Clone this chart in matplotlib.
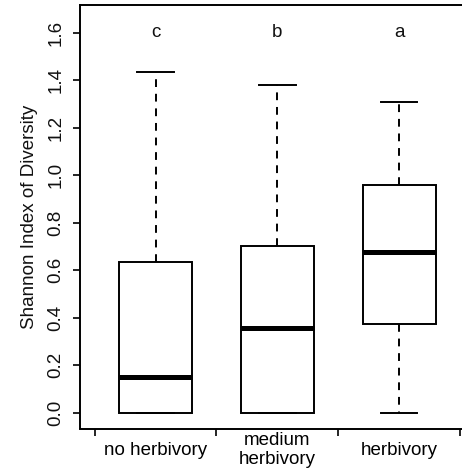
import matplotlib
matplotlib.use("Agg")
import matplotlib.pyplot as plt

plt.rcParams['font.family'] = ['Liberation Sans', 'DejaVu Sans']

# Data
categories = ['no herbivory', 'medium\nherbivory', 'herbivory']
letters = ['c', 'b', 'a']
whis_low = [0.0, 0.0, 0.0]
q1 = [0.0, 0.0, 0.373]
medians = [0.149, 0.358, 0.675]
q3 = [0.636, 0.700, 0.957]
whis_high = [1.434, 1.378, 1.306]

stats = []
for i in range(len(categories)):
    stats.append(dict(whislo=whis_low[i], q1=q1[i], med=medians[i],
                      q3=q3[i], whishi=whis_high[i], fliers=[]))

fig = plt.figure(figsize=(4.62, 4.70), dpi=100)
# right side of the R plot box is cropped off in the reference
ax = fig.add_axes([80 / 462, 41.5 / 470, 394.7 / 462, 423.5 / 470])

positions = [1, 2, 3]
ax.bxp(stats, positions=positions, widths=0.6, capwidths=0.3,
       patch_artist=True, manage_ticks=False,
       boxprops=dict(facecolor='white', edgecolor='black', linewidth=1.4),
       whiskerprops=dict(color='black', linewidth=1.4, linestyle=(0, (4, 3.5))),
       capprops=dict(color='black', linewidth=1.4),
       medianprops=dict(color='black', linewidth=3.6, solid_capstyle='butt'))

for x, lab in zip(positions, letters):
    ax.text(x, 1.6, lab, ha='center', va='center', fontsize=13.5, color='#111111')

ax.set_xlim(0.38, 3.62)
ax.set_ylim(-0.066, 1.716)

ax.set_yticks([0.0, 0.2, 0.4, 0.6, 0.8, 1.0, 1.2, 1.4, 1.6])
ax.set_yticklabels(['%.1f' % v for v in ax.get_yticks()], rotation=90, va='center')
ax.set_xticks([0.5, 1.5, 2.5, 3.5])
ax.set_xticklabels([])
ax.set_xticks(positions, minor=True)
ax.set_xticklabels(categories, minor=True, linespacing=1.1, va='center')
ax.tick_params(axis='x', which='minor', length=0, pad=15.5, labelsize=13.5)
ax.tick_params(axis='both', which='major', length=5, width=1.2, labelsize=13.5,
               labelcolor='#111111')
ax.tick_params(axis='y', pad=6)

for s in ax.spines.values():
    s.set_linewidth(1.4)

ax.set_ylabel('Shannon Index of Diversity', fontsize=13.5, labelpad=7, color='#111111')

fig.savefig('out.png', dpi=100)
